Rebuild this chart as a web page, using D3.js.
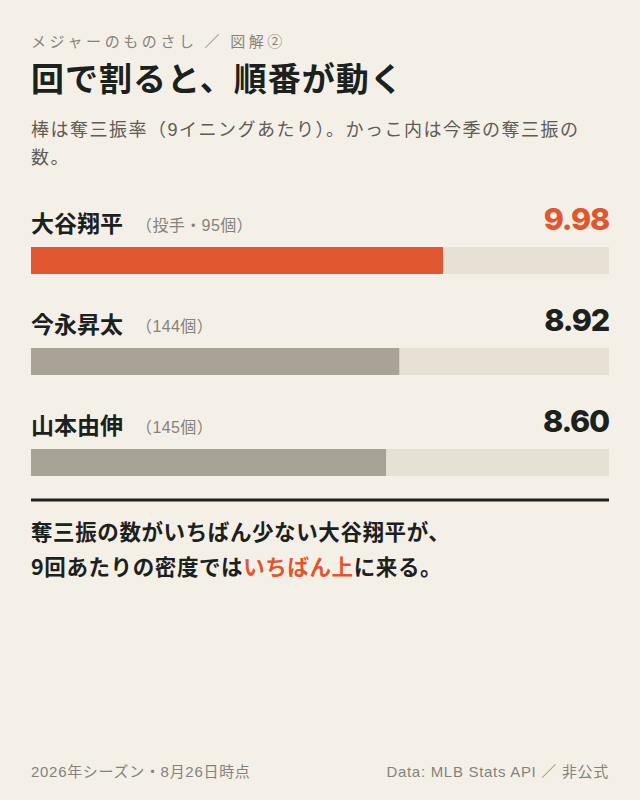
<!DOCTYPE html>
<html>
<head>
<meta charset="utf-8">
<script src="https://cdn.jsdelivr.net/npm/d3@7"></script>
<style>
  html, body { margin: 0; padding: 0; background: #f4f0e8; }
  svg { display: block; }
  text { font-family: "Noto Sans CJK JP", "Noto Sans", sans-serif; }
  text.latin { font-family: "Liberation Sans", "Noto Sans CJK JP", sans-serif; }
  text.num { font-family: Inter, "Liberation Sans", sans-serif; }
</style>
</head>
<body>
<script>
// data
var players = ["大谷翔平", "今永昇太", "山本由伸"];
var roles = ["投手", "", ""];
var strikeouts = [95, 144, 145];
var kPer9 = [9.98, 8.92, 8.60];
var highlight = "大谷翔平";
var xMax = 14;

var width = 640, height = 800;
var left = 31, right = 609;
var ink = "#1b211d", grey = "#86827b", orange = "#e0572f";

var svg = d3.select("body").append("svg")
  .attr("width", width)
  .attr("height", height);

svg.append("rect")
  .attr("width", width).attr("height", height)
  .attr("fill", "#f4f0e8");

// header
svg.append("text")
  .attr("x", left).attr("y", 47)
  .attr("font-size", 15)
  .attr("letter-spacing", 3.6)
  .attr("fill", grey)
  .text("メジャーのものさし ／ 図解②");

svg.append("text")
  .attr("x", left).attr("y", 91)
  .attr("font-size", 33)
  .attr("font-weight", 700)
  .attr("letter-spacing", 1)
  .attr("fill", ink)
  .text("回で割ると、順番が動く");

var sub = svg.append("text")
  .attr("class", "latin")
  .attr("font-size", 18)
  .attr("letter-spacing", 1.5)
  .attr("fill", "#5f5b55");
sub.append("tspan").attr("x", left).attr("y", 136)
  .text("棒は奪三振率（9イニングあたり）。かっこ内は今季の奪三振の");
sub.append("tspan").attr("x", left).attr("y", 164)
  .text("数。");

// scales
var x = d3.scaleLinear().domain([0, xMax]).range([left, right]);
var y = d3.scalePoint().domain(players).range([247, 449]);
var barH = 27;

var rows = svg.selectAll("g.row")
  .data(players)
  .enter().append("g")
  .attr("class", "row");

// track
rows.append("rect")
  .attr("x", x(0))
  .attr("y", function(d) { return y(d); })
  .attr("width", x(xMax) - x(0))
  .attr("height", barH)
  .attr("fill", "#e6e0d5");

// bar
rows.append("rect")
  .attr("x", x(0))
  .attr("y", function(d) { return y(d); })
  .attr("width", function(d, i) { return x(kPer9[i]) - x(0); })
  .attr("height", barH)
  .attr("fill", function(d) { return d == highlight ? orange : "#a8a297"; });

// names
var names = rows.append("text")
  .attr("x", left)
  .attr("y", function(d) { return y(d) - 15; })
  .attr("font-size", 23)
  .attr("font-weight", 700)
  .attr("fill", ink)
  .text(function(d) { return d; });

rows.append("text")
  .attr("class", "latin")
  .attr("x", function(d, i) { return left + names.nodes()[i].getComputedTextLength() + 13; })
  .attr("y", function(d) { return y(d) - 16; })
  .attr("font-size", 16)
  .attr("letter-spacing", 0.4)
  .attr("fill", grey)
  .text(function(d, i) {
    return "（" + (roles[i] ? roles[i] + "・" : "") + strikeouts[i] + "個）";
  });

// values
rows.append("text")
  .attr("class", "num")
  .attr("x", right)
  .attr("y", function(d) { return y(d) - 17; })
  .attr("text-anchor", "end")
  .attr("font-size", 30.5)
  .attr("font-weight", 800)
  .attr("letter-spacing", -1.2)
  .attr("fill", function(d) { return d == highlight ? orange : ink; })
  .text(function(d, i) { return kPer9[i].toFixed(2); });

// divider
svg.append("line")
  .attr("x1", left).attr("x2", right)
  .attr("y1", 500).attr("y2", 500)
  .attr("stroke", ink)
  .attr("stroke-width", 3);

// takeaway
var note = svg.append("text")
  .attr("font-size", 21.5)
  .attr("font-weight", 700)
  .attr("letter-spacing", 0.6)
  .attr("fill", ink);
note.append("tspan").attr("x", left).attr("y", 540)
  .text("奪三振の数がいちばん少ない大谷翔平が、");
var l2 = note.append("tspan").attr("x", left).attr("y", 575);
l2.append("tspan").text("9回あたりの密度では");
l2.append("tspan").attr("fill", orange).text("いちばん上");
l2.append("tspan").text("に来る。");

// footer
svg.append("text")
  .attr("class", "latin")
  .attr("x", left).attr("y", 777)
  .attr("font-size", 15)
  .attr("letter-spacing", 0.7)
  .attr("fill", grey)
  .text("2026年シーズン・8月26日時点");

svg.append("text")
  .attr("class", "latin")
  .attr("x", right).attr("y", 777)
  .attr("text-anchor", "end")
  .attr("font-size", 15)
  .attr("letter-spacing", 0.7)
  .attr("fill", grey)
  .text("Data: MLB Stats API ／ 非公式");
</script>
</body>
</html>
